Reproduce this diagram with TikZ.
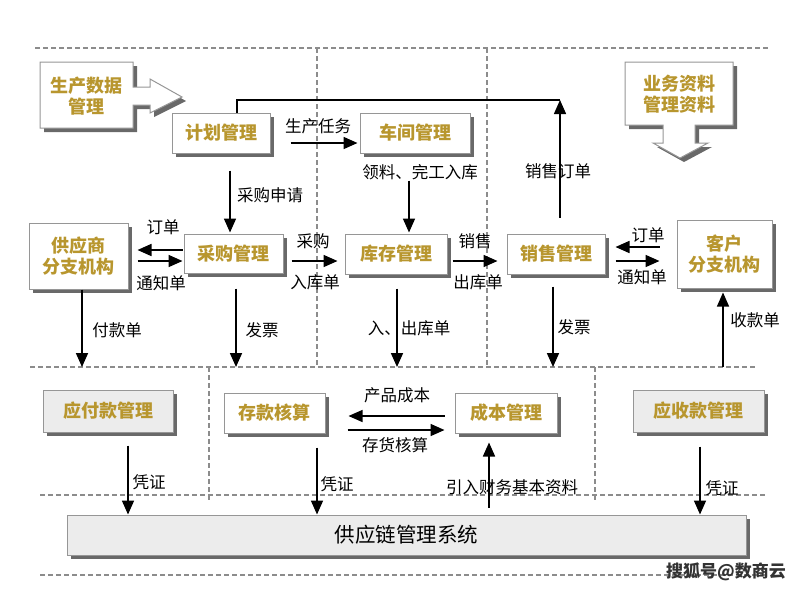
\documentclass[tikz,border=0pt]{standalone}
\usepackage{fontspec}
\setmainfont{Noto Sans CJK SC}
\usetikzlibrary{arrows.meta,shadows}
\definecolor{gold}{RGB}{184,150,46}
\definecolor{bordergray}{RGB}{150,150,150}
\definecolor{shadowgray}{RGB}{105,105,105}
\definecolor{dashgray}{RGB}{140,140,140}
\definecolor{lightfill}{RGB}{236,236,236}
\begin{document}
\begin{tikzpicture}[x=1pt,y=-1pt,
 myshadow/.style={drop shadow={shadow xshift=4pt, shadow yshift=-4pt, opacity=1, fill=shadowgray}},
 box/.style={draw=bordergray, line width=1pt, fill=white, myshadow, text=gold,
   font=\fontsize{18}{21}\selectfont\bfseries, align=center, inner sep=0pt},
 graybox/.style={box, fill=lightfill},
 blockshape/.style={draw=bordergray, line width=1pt, fill=white, myshadow},
 txt/.style={text=gold, font=\fontsize{18}{21}\selectfont\bfseries, align=center, inner sep=0pt},
 lbl/.style={font=\fontsize{16.5}{18}\selectfont, text=black, inner sep=1pt},
 arr/.style={line width=1.7pt, -{Triangle[length=14pt,width=12pt]}},
 thinarr/.style={line width=1.2pt, -{Triangle[length=14pt,width=12pt]}},
 sep/.style={draw=dashgray, line width=1.1pt, dash pattern=on 5pt off 3pt}
]
\useasboundingbox (0,0) rectangle (800,590);
% separators
\draw[sep] (35,48) -- (768,48);
\draw[sep] (317,48) -- (317,367);
\draw[sep] (487,48) -- (487,367);
\draw[sep] (30,367) -- (757,367);
\draw[sep] (209,367) -- (209,500);
\draw[sep] (595,367) -- (595,500);
\draw[sep] (40,495) -- (765,495);
\draw[sep] (40,575) -- (765,575);

% block-arrow boxes
\filldraw[blockshape] (40,62) -- (133,62) -- (133,87) -- (150,87) -- (150,79) -- (182,97) -- (150,113) -- (150,105) -- (133,105) -- (133,128) -- (40,128) -- cycle;
\node[txt] (pd) at (86.5,96) {生产数据\\管理};
\filldraw[blockshape] (625,62) -- (733,62) -- (733,125) -- (695,125) -- (695,143) -- (708,143) -- (680,158) -- (653,143) -- (663,143) -- (663,125) -- (625,125) -- cycle;
\node[txt] (biz) at (679,94) {业务资料\\管理资料};

% nodes
\node[box, minimum width=98pt, minimum height=40pt] (plan) at (221,133) {计划管理};
\node[box, minimum width=110pt, minimum height=40pt] (workshop) at (415,133) {车间管理};
\node[box, minimum width=99pt, minimum height=66pt] (supplier) at (78.5,256) {供应商\\分支机构};
\node[box, minimum width=99pt, minimum height=39pt] (purchase) at (233.5,253.5) {采购管理};
\node[box, minimum width=102pt, minimum height=40pt] (stock) at (396,254) {库存管理};
\node[box, minimum width=98pt, minimum height=40pt] (sales) at (556,254) {销售管理};
\node[box, minimum width=95pt, minimum height=68pt] (customer) at (724.5,254) {客户\\分支机构};
\node[graybox, minimum width=130pt, minimum height=42pt] (ap) at (108,411) {应付款管理};
\node[box, minimum width=101pt, minimum height=40pt] (deposit) at (274.5,413) {存款核算};
\node[box, minimum width=102pt, minimum height=40pt] (cost) at (506,413) {成本管理};
\node[graybox, minimum width=131pt, minimum height=42pt] (ar) at (698.5,411) {应收款管理};
\node[graybox, minimum width=679pt, minimum height=40pt, text=black,
  font=\fontsize{20.5}{24}\selectfont] (scm) at (406.5,535) {供应链管理系统};

% top connectors
\draw[arr, shorten <=20pt, shorten >=2pt] (plan.east |- 0,143) -- (workshop.west |- 0,143);
\coordinate (loop) at (560,100);
\draw[line width=1.5pt] ([xshift=16pt]plan.north) |- (loop);
\draw[thinarr, line width=1.5pt, shorten <=16pt] (sales.north -| loop) -- (loop);
\draw[arr, shorten <=17pt, shorten >=1pt] (plan.south -| 230,0) -- (purchase.north -| 230,0);
\draw[arr, shorten <=27pt, shorten >=1pt] (workshop.south -| 409,0) -- (stock.north -| 409,0);

% middle row
\draw[arr, shorten <=1pt, shorten >=9pt] (purchase.west |- 0,250) -- (supplier.east |- 0,250);
\draw[arr, shorten <=9pt, shorten >=1pt] (supplier.east |- 0,261) -- (purchase.west |- 0,261);
\draw[arr, shorten <=8pt, shorten >=7pt] (purchase.east |- 0,261) -- (stock.west |- 0,261);
\draw[arr, shorten <=5pt, shorten >=9pt] (stock.east |- 0,261) -- (sales.west |- 0,261);
\draw[arr, shorten <=17pt, shorten >=10pt] (customer.west |- 0,247) -- (sales.east |- 0,247);
\draw[arr, shorten <=10pt, shorten >=17pt] (sales.east |- 0,261) -- (customer.west |- 0,261);

% downward to finance
\coordinate (d1) at (82,367);
\coordinate (d2) at (236,367);
\coordinate (d3) at (397,367);
\coordinate (d4) at (553,367);
\coordinate (u1) at (723,367);
\draw[arr] (supplier.south -| d1) -- (d1);
\draw[arr, shorten <=15pt] (purchase.south -| d2) -- (d2);
\draw[arr, shorten <=14pt] (stock.south -| d3) -- (d3);
\draw[arr, shorten <=12pt] (sales.south -| d4) -- (d4);
\draw[thinarr, shorten >=4pt] (u1) -- (customer.south -| u1);

% bottom row
\draw[thinarr, shorten <=10pt, shorten >=23pt] (cost.west |- 0,416) -- (deposit.east |- 0,416);
\draw[arr, shorten <=22pt, shorten >=10pt] (deposit.east |- 0,430) -- (cost.west |- 0,430);
\draw[arr, shorten <=13pt] (ap.south -| 128,0) -- (scm.north -| 128,0);
\draw[arr, shorten <=14pt] (deposit.south -| 317,0) -- (scm.north -| 317,0);
\draw[arr, shorten <=14pt] (ar.south -| 700,0) -- (scm.north -| 700,0);
\draw[arr, shorten <=7pt, shorten >=9pt] (scm.north -| 489,0) -- (cost.south -| 489,0);

% labels
\node[lbl] (l1) at (318,126) {生产任务};
\node[lbl] (l2) at (270,195) {采购申请};
\node[lbl] (l3) at (420,172) {领料、完工入库};
\node[lbl] (l4) at (558,171) {销售订单};
\node[lbl] (l5) at (163,227) {订单};
\node[lbl] (l6) at (161,283) {通知单};
\node[lbl] (l7) at (313,241) {采购};
\node[lbl] (l8) at (315,282) {入库单};
\node[lbl] (l9) at (475,241) {销售};
\node[lbl] (l10) at (478,282) {出库单};
\node[lbl] (l11) at (648,235) {订单};
\node[lbl] (l12) at (642,277) {通知单};
\node[lbl] (l13) at (117,330) {付款单};
\node[lbl] (l14) at (262,330) {发票};
\node[lbl] (l15) at (409,328) {入、出库单};
\node[lbl] (l16) at (574,327) {发票};
\node[lbl] (l17) at (755,320) {收款单};
\node[lbl] (l18) at (397,395) {产品成本};
\node[lbl] (l19) at (395,445) {存货核算};
\node[lbl] (l20) at (149,482) {凭证};
\node[lbl] (l21) at (337,484) {凭证};
\node[lbl] (l22) at (512,487) {引入财务基本资料};
\node[lbl] (l23) at (722,488) {凭证};
\node[font=\fontsize{17}{20}\selectfont\bfseries, text=black!80, inner sep=0pt] (wm) at (726,572) {搜狐号@数商云};
\end{tikzpicture}
\end{document}
